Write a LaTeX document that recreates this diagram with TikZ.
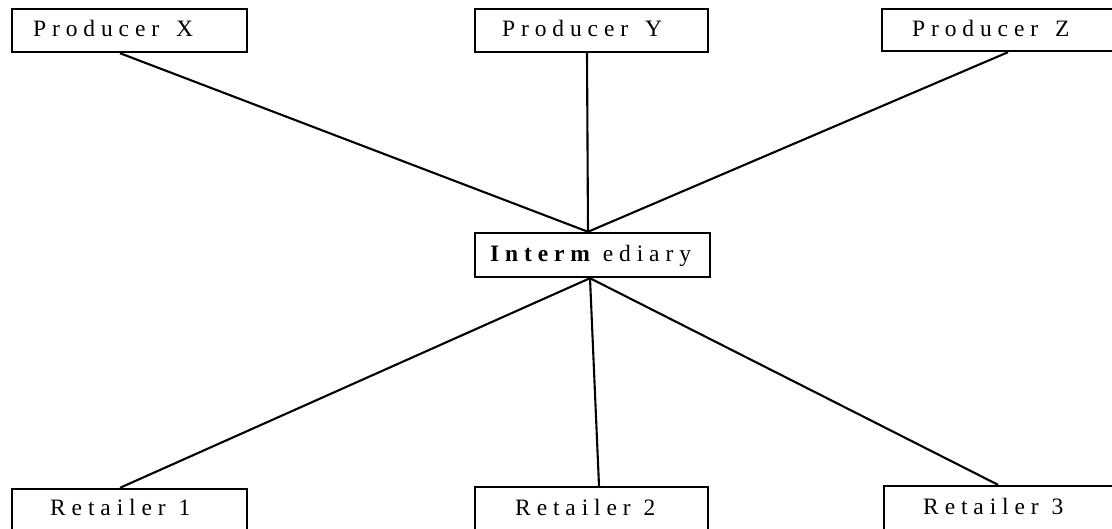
\documentclass[tikz,border=0pt]{standalone}
\usepackage{fontspec}
\newfontfamily\labfont[LetterSpace=25]{Liberation Serif}
\begin{document}
\begin{tikzpicture}[x=1pt,y=-1pt,
  box/.style={draw, line width=2.4pt, rectangle, inner sep=0pt},
  lab/.style={font=\labfont\fontsize{23.5}{27}\selectfont, inner sep=0pt, anchor=base west},
  link/.style={line width=2.1pt}]
\clip (0,0) rectangle (1112,529);
\fill[white] (0,0) rectangle (1112,529);
% boxes
\node[box, minimum width=235pt, minimum height=43pt] (px) at (129.5,30.5) {};
\node[box, minimum width=233pt, minimum height=43pt] (py) at (591.5,30.5) {};
\node[box, minimum width=240pt, minimum height=42pt] (pz) at (1002,30) {};
\node[box, minimum width=235pt, minimum height=44pt] (im) at (592.5,255) {};
\node[box, minimum width=235pt, minimum height=50pt] (r1) at (129.5,514) {};
\node[box, minimum width=233pt, minimum height=50pt] (r2) at (591.5,512) {};
\node[box, minimum width=240pt, minimum height=50pt] (r3) at (1004,511) {};
% labels
\node[lab] (tpx) at (33,37) {Producer\hspace{17pt}X};
\node[lab] (tpy) at (502,37) {Producer\hspace{17pt}Y};
\node[lab] (tpz) at (912,37) {Producer\hspace{17pt}Z};
\node[lab] (tim) at (490,262) {\textbf{Interm}\hspace{7pt}ediary};
\node[lab] (tr1) at (50,515) {Retailer\hspace{13pt}1};
\node[lab] (tr2) at (515,515) {Retailer\hspace{13pt}2};
\node[lab] (tr3) at (923,514) {Retailer\hspace{13pt}3};
% connectors
\draw[link] ([xshift=-9.5pt]px.south) -- ([xshift=-4.5pt]im.north);
\draw[link] ([xshift=-4.5pt]py.south) -- ([xshift=-4.5pt]im.north);
\draw[link] ([xshift=6pt]pz.south) -- ([xshift=-4.5pt]im.north);
\draw[link] ([xshift=-2.5pt]im.south) -- ([xshift=-9.5pt]r1.north);
\draw[link] ([xshift=-2.5pt]im.south) -- ([xshift=7.5pt]r2.north);
\draw[link] ([xshift=-2.5pt]im.south) -- ([xshift=-6pt]r3.north);
\end{tikzpicture}
\end{document}
